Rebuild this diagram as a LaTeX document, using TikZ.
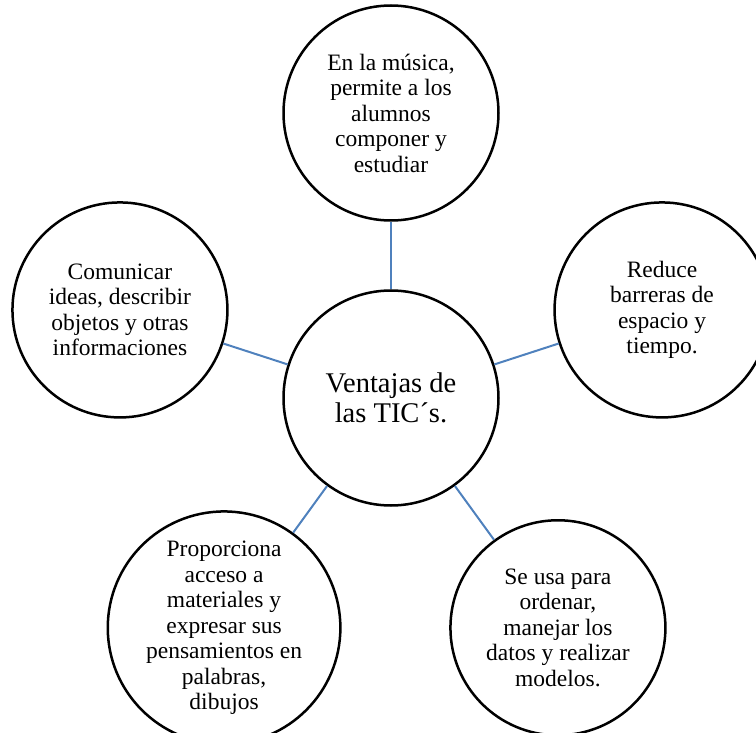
\documentclass[tikz,border=0pt]{standalone}
\usepackage{fontspec}
\setmainfont{Liberation Serif}
\usetikzlibrary{positioning}
\definecolor{lineblue}{RGB}{79,129,189}
\tikzstyle{idea}=[circle, draw=black, fill=white, line width=2.5pt, minimum size=215pt, inner sep=0pt, align=center, font=\fontsize{23.5}{25.5}\selectfont]

\begin{document}
\begin{tikzpicture}[
        line/.style={draw=lineblue, line width=2pt},
      ]
      \useasboundingbox (0,0) rectangle (756pt,-733pt);
      \node (Ventajas) [idea, font=\fontsize{28.5}{30}\selectfont] at (391pt,-398pt)
            {Ventajas de\\las TIC´s.};
      \node (Musica) [idea] at ([shift={(90:285pt)}]Ventajas.center)
            {En la música,\\permite a los\\alumnos\\componer y\\estudiar};
      \node (Comunicar) [idea] at ([shift={(162:285pt)}]Ventajas.center)
            {Comunicar\\ideas, describir\\objetos y otras\\informaciones};
      \node (Reduce) [idea] at ([shift={(18:285pt)}]Ventajas.center)
            {Reduce\\barreras de\\espacio y\\tiempo.};
      \node (Proporciona) [idea] at ([shift={(234:284pt)}]Ventajas.center)
            {Proporciona\\acceso a\\materiales y\\expresar sus\\pensamientos en\\palabras,\\dibujos};
      \node (Ordenar) [idea] at ([shift={(306:284pt)}]Ventajas.center)
            {Se usa para\\ordenar,\\manejar los\\datos y realizar\\modelos.};
      \draw [line] (Ventajas) -- (Musica);
      \draw [line] (Ventajas) -- (Comunicar);
      \draw [line] (Ventajas) -- (Reduce);
      \draw [line] (Ventajas) -- (Proporciona);
      \draw [line] (Ventajas) -- (Ordenar);
    \end{tikzpicture}
\end{document}
